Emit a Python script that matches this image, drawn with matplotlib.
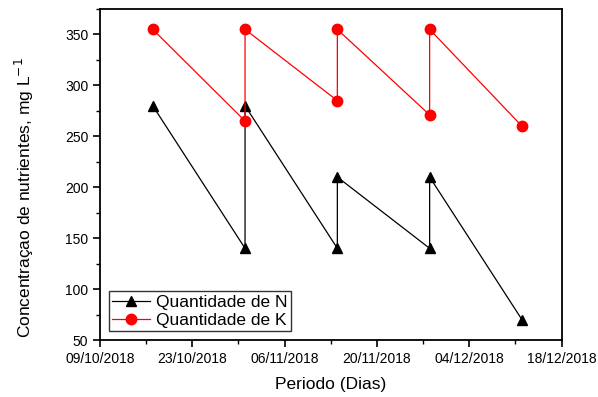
import matplotlib
matplotlib.use("Agg")
import matplotlib.pyplot as plt
import pandas as pd

plt.rcParams['font.family'] = ['Liberation Sans', 'DejaVu Sans']

# datas de coleta (antes e depois de cada reposicao)
datas_n = ['2018-10-17', '2018-10-31', '2018-10-31', '2018-11-14', '2018-11-14',
           '2018-11-28', '2018-11-28', '2018-12-12']
valores_n = [280, 140, 280, 140, 210, 140, 210, 70]

datas_k = ['2018-10-17', '2018-10-31', '2018-10-31', '2018-11-14', '2018-11-14',
           '2018-11-28', '2018-11-28', '2018-12-12']
valores_k = [355, 265, 355, 285, 355, 271, 355, 260]

x_ticks = ['2018-10-09', '2018-10-23', '2018-11-06', '2018-11-20', '2018-12-04', '2018-12-18']

fig = plt.figure(figsize=(5.98, 3.97), dpi=100)
ax = fig.add_axes([100 / 598, 57 / 397, 461.5 / 598, 331 / 397])

ax.plot(pd.to_datetime(datas_n), valores_n, color='black', lw=0.9, marker='^',
        markersize=7.5, label='Quantidade de N')
ax.plot(pd.to_datetime(datas_k), valores_k, color='red', lw=0.9, marker='o',
        markersize=7.5, label='Quantidade de K')

ticks = pd.to_datetime(x_ticks)
ax.set_xlim(ticks[0], ticks[-1])
ax.set_xticks(ticks)
ax.set_xticks(pd.date_range(ticks[0], ticks[-1], freq='7D'), minor=True)
ax.set_xticklabels([t.strftime('%d/%m/%Y') for t in ticks])

ax.set_ylim(50, 375)
ax.set_yticks(range(50, 351, 50))
ax.set_yticks(range(75, 376, 25), minor=True)

for s in ax.spines.values():
    s.set_linewidth(1.3)
ax.tick_params(which='major', direction='out', length=5, width=1.2, labelsize=10)
ax.tick_params(which='minor', direction='out', length=3, width=1.0)

ax.set_xlabel('Periodo (Dias)', fontsize=12.5, labelpad=8)
ax.set_ylabel('Concentraçao de nutrientes, mg L$^{-1}$', fontsize=12.5)
ax.yaxis.set_label_coords(-0.139, 0.43)

leg = ax.legend(loc='lower left', fontsize=12.5, frameon=True, fancybox=False,
                edgecolor='black', borderpad=0.2, labelspacing=0.15,
                handlelength=2.2, handletextpad=0.3, borderaxespad=0.5)
leg.get_frame().set_linewidth(1.0)

fig.savefig('out.png', dpi=100)
